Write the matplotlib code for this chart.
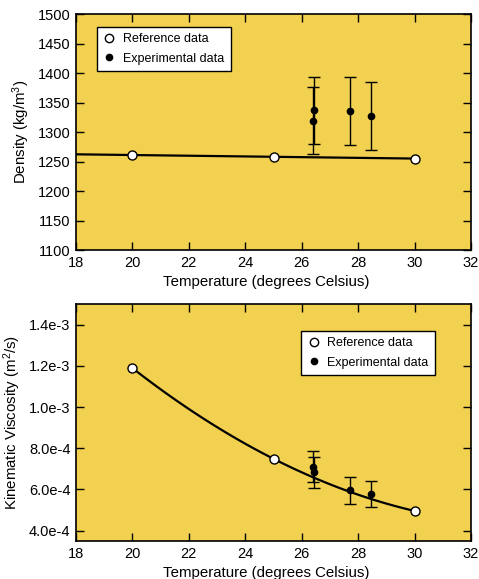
import numpy as np
import matplotlib
matplotlib.use("Agg")
import matplotlib.pyplot as plt
from matplotlib.lines import Line2D

plt.rcParams['font.family'] = ['Liberation Sans', 'DejaVu Sans']
plt.rcParams['mathtext.default'] = 'regular'

# reference data (temperature in C)
ref_temp = [20, 25, 30]
ref_density = [1261, 1258, 1255]
ref_visc = [1.189e-3, 7.49e-4, 4.96e-4]

# experimental data
exp_temp = [26.40, 26.44, 27.72, 28.44]
exp_density = [1319, 1337, 1335, 1327]
exp_density_err = [57, 57, 57.5, 57]
exp_visc = [7.10e-4, 6.84e-4, 5.97e-4, 5.77e-4]
exp_visc_err = [7.6e-5, 7.5e-5, 6.5e-5, 6.3e-5]

x_ticks = [18, 20, 22, 24, 26, 28, 30, 32]
dens_ticks = [1100, 1150, 1200, 1250, 1300, 1350, 1400, 1450, 1500]
visc_ticks = [4.0e-4, 6.0e-4, 8.0e-4, 1.0e-3, 1.2e-3, 1.4e-3]
visc_labels = ['4.0e-4', '6.0e-4', '8.0e-4', '1.0e-3', '1.2e-3', '1.4e-3']

bg = '#F2D050'

fig = plt.figure(figsize=(4.79, 5.79), dpi=100)
ax1 = fig.add_axes([0.1587, 0.5682, 0.8246, 0.4076])
ax2 = fig.add_axes([0.1587, 0.0656, 0.8246, 0.4093])


def style(ax):
    ax.set_facecolor(bg)
    ax.tick_params(direction='in', length=6, width=1, top=True, right=True,
                   labelsize=10.5, pad=4, colors='black')
    for s in ax.spines.values():
        s.set_linewidth(1.2)
    ax.set_xlim(18, 32)
    ax.set_xticks(x_ticks)
    ax.set_xlabel('Temperature (degrees Celsius)', fontsize=10.8)
    ax.xaxis.set_label_coords(0.482, -0.105)


def add_legend(ax, anchor):
    handles = [Line2D([], [], ls='none', marker='o', mfc='white', mec='black', ms=6, mew=1),
               Line2D([], [], ls='none', marker='o', color='black', ms=4.5)]
    leg = ax.legend(handles, ['Reference data', 'Experimental data'], loc='upper left',
                    bbox_to_anchor=anchor, borderaxespad=0, fontsize=9, frameon=True,
                    fancybox=False, edgecolor='black', framealpha=1, handlelength=1,
                    handletextpad=0.6, borderpad=0.5, labelspacing=0.6)
    leg.get_frame().set_linewidth(1)


# density
fit_d = np.polyfit(ref_temp, ref_density, 1)
xd = np.linspace(18, 30, 50)
ax1.plot(xd, np.polyval(fit_d, xd), color='black', lw=1.6, zorder=2)
ax1.errorbar(exp_temp, exp_density, yerr=exp_density_err, fmt='o', color='black',
             ms=4.5, capsize=4, elinewidth=1, capthick=1, zorder=3)
ax1.plot(ref_temp, ref_density, 'o', mfc='white', mec='black', ms=6.5, mew=1, zorder=4)
style(ax1)
ax1.set_ylim(1100, 1500)
ax1.set_yticks(dens_ticks)
ax1.set_ylabel('Density (kg/m$^3$)', fontsize=10.8, labelpad=4)
add_legend(ax1, (0.053, 0.945))

# kinematic viscosity
fit_v = np.polyfit(ref_temp, ref_visc, 2)
xv = np.linspace(20, 30, 100)
ax2.plot(xv, np.polyval(fit_v, xv), color='black', lw=1.6, zorder=2)
ax2.errorbar(exp_temp, exp_visc, yerr=exp_visc_err, fmt='o', color='black',
             ms=4.5, capsize=4, elinewidth=1, capthick=1, zorder=3)
ax2.plot(ref_temp, ref_visc, 'o', mfc='white', mec='black', ms=6.5, mew=1, zorder=4)
style(ax2)
ax2.set_ylim(3.5e-4, 1.5e-3)
ax2.set_yticks(visc_ticks)
ax2.set_yticklabels(visc_labels)
ax2.set_ylabel('Kinematic Viscosity (m$^2$/s)', fontsize=10.8, labelpad=4)
add_legend(ax2, (0.57, 0.886))

fig.savefig('out.png', dpi=100)
